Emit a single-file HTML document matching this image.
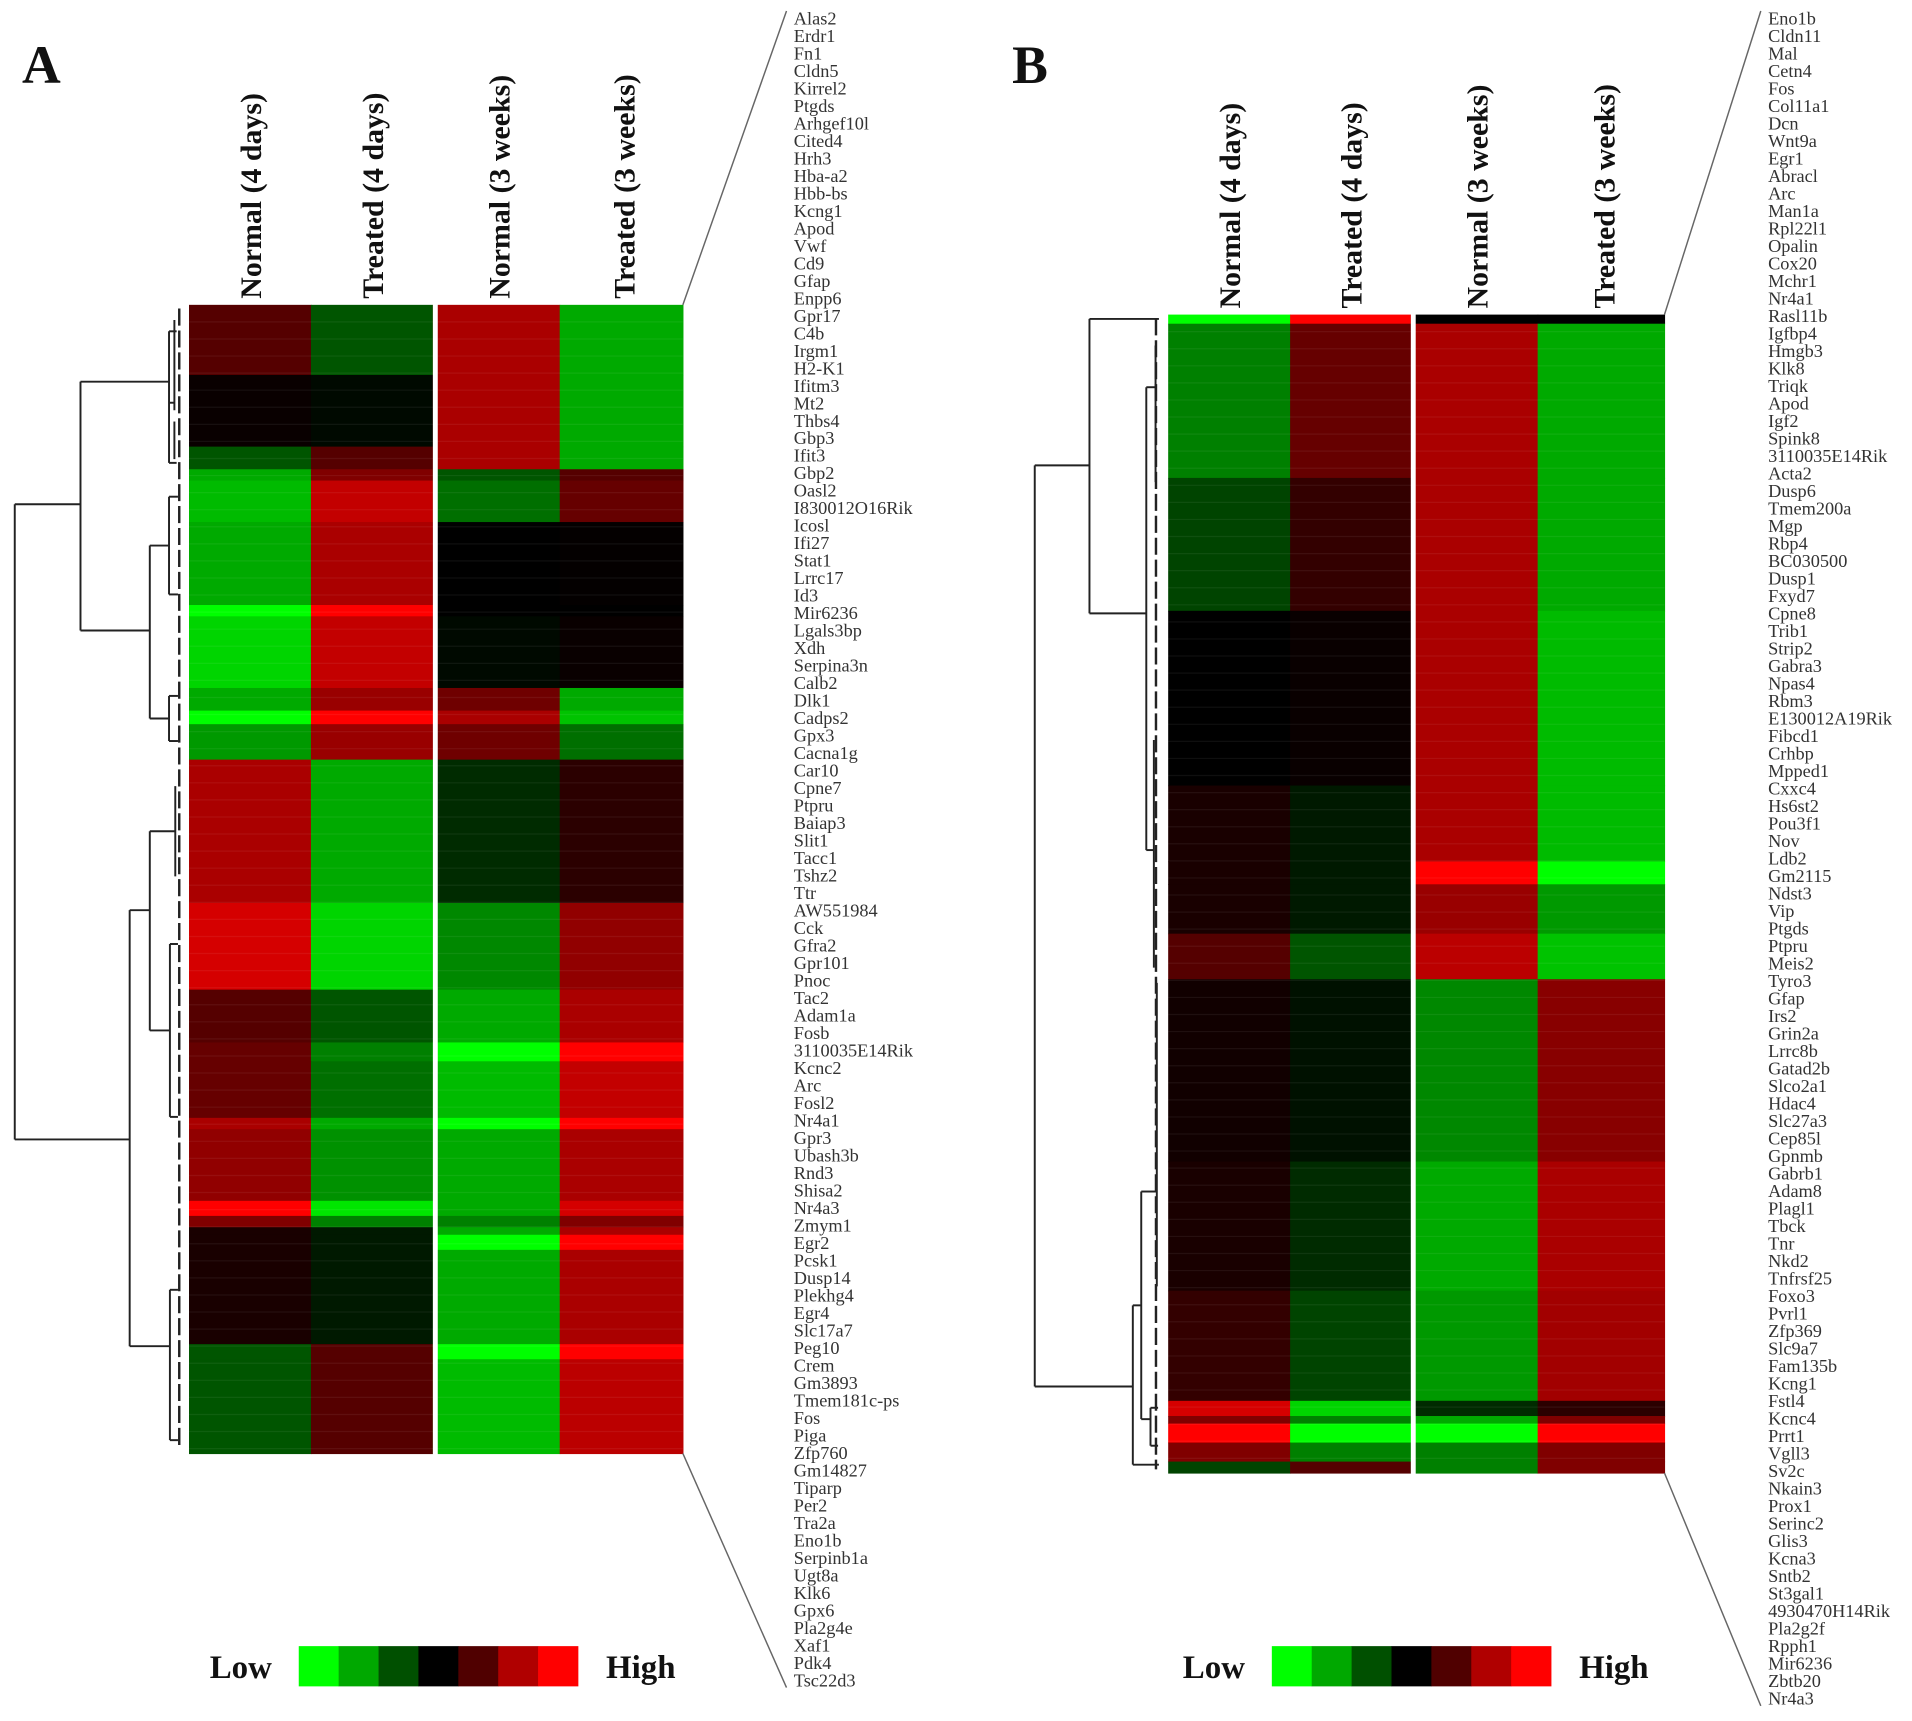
<!DOCTYPE html>
<html><head><meta charset="utf-8"><style>
html,body{margin:0;padding:0;background:#fff;}
svg{display:block;}
text{font-family:"Liberation Serif",serif;fill:#222;}
.col{font-size:24.5px;font-weight:bold;fill:#111;}
.gene{font-size:15px;fill:#333;}
.leg{font-size:27px;font-weight:bold;fill:#111;}
</style></head><body>
<svg id="fig" width="1912" height="1721" viewBox="0 0 1568 1411.4" preserveAspectRatio="none" xmlns="http://www.w3.org/2000/svg">
<text x="18" y="68" style="font-size:44px;font-weight:bold;fill:#111">A</text>
<text x="830" y="68" style="font-size:44px;font-weight:bold;fill:#111">B</text>
<g id="gA"></g>
<g id="gB"></g>
</svg>
<script>
const segStartA = [22,115,210,240,255,310,420,435,530,560,578,625,815,930,1000,1025,1100,1115,1210,1230,1245,1255,1275,1400,1420];
const segValsA = [
 [1,-1,2,-2],[0.1,-0.1,2,-2],[-1,1,2,-2],[-2,1.5,-1,1],[-2.2,2.3,-1.3,1.2],[-2,2,0,0.05],[-3,3,0,0],[-2.5,2.3,-0.1,0.1],
 [-2,1.8,1.3,-2],[-3,3,2,-2.3],[-1.8,1.8,1.3,-1.3],[2,-2,-0.5,0.5],[2.5,-2.5,-1.6,1.7],[1,-1,-2,2],[1.2,-1.5,-3,3],
 [1.2,-1.3,-2.2,2.3],[2,-2,-3,3],[1.7,-1.7,-2,2],[3,-2.7,-2,2.5],[1.5,-1.5,-1.5,1.5],[0.3,-0.3,-2,2],[0.3,-0.3,-3,3],
 [0.3,-0.3,-2,2],[-1,1,-3,3],[-1,1,-2.2,2.2]];
const segEndA = 1545;
const segStartB = [20,32,235,410,640,740,770,835,895,1135,1305,1450,1470,1480,1505,1530];
const segValsB = [
 [-3,3,0,0],[-1.5,1.2,2,-2],[-0.8,0.6,2,-2],[0,0.1,2,-2.2],[0.3,-0.3,2,-2.2],[0.3,-0.3,3,-3],[0.3,-0.3,1.8,-1.8],
 [1,-1,2.2,-2.3],[0.2,-0.2,-1.6,1.6],[0.3,-0.5,-2,2],[0.6,-0.8,-1.8,1.9],[2.5,-2.5,-0.5,0.5],[1.5,-1.5,-2,1.5],
 [3,-3,-3,3],[1.5,-1.5,-1.5,1.5],[-0.8,1,-1.5,1.5]];
const segEndB = 1545;
const colLabels = ["Normal (4 days)","Treated (4 days)","Normal (3 weeks)","Treated (3 weeks)"];
const genesA = ["Alas2","Erdr1","Fn1","Cldn5","Kirrel2","Ptgds","Arhgef10l","Cited4","Hrh3","Hba-a2","Hbb-bs","Kcng1","Apod","Vwf","Cd9","Gfap","Enpp6","Gpr17","C4b","Irgm1","H2-K1","Ifitm3","Mt2","Thbs4","Gbp3","Ifit3","Gbp2","Oasl2","I830012O16Rik","Icosl","Ifi27","Stat1","Lrrc17","Id3","Mir6236","Lgals3bp","Xdh","Serpina3n","Calb2","Dlk1","Cadps2","Gpx3","Cacna1g","Car10","Cpne7","Ptpru","Baiap3","Slit1","Tacc1","Tshz2","Ttr","AW551984","Cck","Gfra2","Gpr101","Pnoc","Tac2","Adam1a","Fosb","3110035E14Rik","Kcnc2","Arc","Fosl2","Nr4a1","Gpr3","Ubash3b","Rnd3","Shisa2","Nr4a3","Zmym1","Egr2","Pcsk1","Dusp14","Plekhg4","Egr4","Slc17a7","Peg10","Crem","Gm3893","Tmem181c-ps","Fos","Piga","Zfp760","Gm14827","Tiparp","Per2","Tra2a","Eno1b","Serpinb1a","Ugt8a","Klk6","Gpx6","Pla2g4e","Xaf1","Pdk4","Tsc22d3"];
const genesB = ["Eno1b","Cldn11","Mal","Cetn4","Fos","Col11a1","Dcn","Wnt9a","Egr1","Abracl","Arc","Man1a","Rpl22l1","Opalin","Cox20","Mchr1","Nr4a1","Rasl11b","Igfbp4","Hmgb3","Klk8","Triqk","Apod","Igf2","Spink8","3110035E14Rik","Acta2","Dusp6","Tmem200a","Mgp","Rbp4","BC030500","Dusp1","Fxyd7","Cpne8","Trib1","Strip2","Gabra3","Npas4","Rbm3","E130012A19Rik","Fibcd1","Crhbp","Mpped1","Cxxc4","Hs6st2","Pou3f1","Nov","Ldb2","Gm2115","Ndst3","Vip","Ptgds","Ptpru","Meis2","Tyro3","Gfap","Irs2","Grin2a","Lrrc8b","Gatad2b","Slco2a1","Hdac4","Slc27a3","Cep85l","Gpnmb","Gabrb1","Adam8","Plagl1","Tbck","Tnr","Nkd2","Tnfrsf25","Foxo3","Pvrl1","Zfp369","Slc9a7","Fam135b","Kcng1","Fstl4","Kcnc4","Prrt1","Vgll3","Sv2c","Nkain3","Prox1","Serinc2","Glis3","Kcna3","Sntb2","St3gal1","4930470H14Rik","Pla2g2f","Rpph1","Mir6236","Zbtb20","Nr4a3"];
const legendVals = [-3,-2,-1,0,1,2,3];
const dendA = [[33,285,33,1130],[33,285,180,285],[33,1130,290,1130],[180,122,180,453],[180,122,378,122],[180,453,335,453],
 [378,55,378,230],[378,55,395,55],[378,230,395,230],[378,150,390,150],[390,40,390,160],[390,175,390,225],
 [335,340,335,570],[335,340,378,340],[335,570,378,570],[378,275,378,405],[378,275,398,275],[378,405,398,405],[378,540,378,600],[378,540,398,540],[378,600,398,600],
 [290,825,290,1405],[290,825,335,825],[290,1405,380,1405],[335,720,335,985],[335,720,392,720],[335,985,380,985],
 [380,870,380,1100],[380,870,398,870],[380,1100,398,1100],[380,1330,380,1530],[380,1330,398,1330],[380,1530,398,1530],[392,660,392,780]];
const dendB = [[35,218,35,1432],[35,218,165,218],[35,1432,268,1432],[165,25,165,413],[165,25,330,25],[165,413,300,413],
 [300,115,300,725],[300,115,322,115],[300,725,318,725],[322,60,322,240],[318,580,318,880],
 [268,1325,268,1535],[268,1325,288,1325],[268,1535,330,1535],[288,1175,288,1475],[288,1175,325,1175],[288,1475,310,1475],[310,1460,310,1510],[310,1460,328,1460],[310,1510,328,1510],[325,900,325,1300]];

const NS="http://www.w3.org/2000/svg";
function el(t,a,p){const e=document.createElementNS(NS,t);for(const k in a)e.setAttribute(k,a[k]);p.appendChild(e);return e;}
function color(v){v=Math.max(-3,Math.min(3,v));const c=Math.round(Math.abs(v)/3*255);return v>=0?`rgb(${c},0,0)`:`rgb(0,${c},0)`;}
function legColor(v){const r=["#00ff00","#00a800","#005000","#000000","#500000","#b00000","#ff0000"];return r[v+3];}

function panel(g,cfg){
  const yScale=zy=>cfg.top+(zy-cfg.z0)/(cfg.z1-cfg.z0)*(cfg.bot-cfg.top);
  cfg.starts.forEach((s,i)=>{
    const e=i+1<cfg.starts.length?cfg.starts[i+1]:cfg.zEnd;
    const y0=yScale(s),y1=yScale(e);
    cfg.vals[i].forEach((v,j)=>{
      const r=el('rect',{x:cfg.cols[j],y:y0,width:cfg.cols[j+1]-cfg.cols[j]+0.5,height:y1-y0+0.5,fill:color(v)},g);
      
      
    });
  });
  const gap=el('rect',{x:cfg.gapX,y:cfg.top-1,width:4,height:cfg.bot-cfg.top+2,fill:'#fff'},g);
  
  
  for(let y=cfg.top+14;y<cfg.bot;y+=14){const l=el('line',{x1:cfg.cols[0],x2:cfg.cols[4],y1:y,y2:y,stroke:'#fff','stroke-opacity':0.06,'stroke-width':1},g);
    
    }
  cfg.dend.forEach(d=>{const l=el('line',{x1:cfg.dx(d[0]),y1:cfg.dy(d[1]),x2:cfg.dx(d[2]),y2:cfg.dy(d[3]),stroke:'#222','stroke-width':1.6},g);
    
    });
  const dl=el('line',{x1:cfg.dashX,x2:cfg.dashX,y1:cfg.top+3,y2:cfg.bot-3,stroke:'#222','stroke-width':2,'stroke-dasharray':'14 4'},g);
  
  
  colLabels.forEach((t,j)=>{const cx=(cfg.cols[j]+cfg.cols[j+1])/2+(j>=2?2:0);
    const tx=el('text',{class:'col',transform:`translate(${cx+9},${cfg.labBot}) rotate(-90)`},g);tx.textContent=t;
    
    });
  const n=cfg.genes.length;
  cfg.genes.forEach((t,i)=>{const y=cfg.gTop+i*(cfg.gBot-cfg.gTop)/(n-1);
    const tx=el('text',{class:'gene',x:cfg.gX,y:y+5},g);tx.textContent=t;
    
    });
  [[cfg.cols[4],cfg.top,cfg.gX-6,cfg.gTop-6],[cfg.cols[4],cfg.bot,cfg.gX-6,cfg.gBot+6]].forEach(p=>{
    const l=el('line',{x1:p[0],y1:p[1],x2:p[2],y2:p[3],stroke:'#666','stroke-width':1.2},g);
    
    });
  const lw=(cfg.legX1-cfg.legX0)/7;
  legendVals.forEach((v,k)=>{const r=el('rect',{x:cfg.legX0+k*lw,y:1350,width:lw+0.3,height:33,fill:legColor(v)},g);
    
    });
  const lo=el('text',{class:'leg',x:cfg.legX0-73,y:1376},g);lo.textContent='Low';
  
  
  const hi=el('text',{class:'leg',x:cfg.legX1+23,y:1376},g);hi.textContent='High';
  
  
}
panel(document.getElementById('gA'),{top:250,bot:1192,z0:22,z1:1545,zEnd:segEndA,starts:segStartA,vals:segValsA,
  cols:[155,255,355,459,560],gapX:355,dend:dendA,dx:zx=>zx/2.727,dy:zy=>237.8+zy/1.622,dashX:147,labBot:245,
  genes:genesA,gX:651,gTop:15,gBot:1378,legX0:245,legX1:474});
panel(document.getElementById('gB'),{top:258,bot:1208,z0:20,z1:1545,zEnd:segEndB,starts:segStartB,vals:segValsB,
  cols:[958,1058,1157,1261,1365],gapX:1157,dend:dendB,dx:zx=>836.5+zx/2.897,dy:zy=>246+zy/1.607,dashX:948,labBot:253,
  genes:genesB,gX:1450,gTop:15,gBot:1393,legX0:1043,legX1:1272});
</script>
</body></html>
